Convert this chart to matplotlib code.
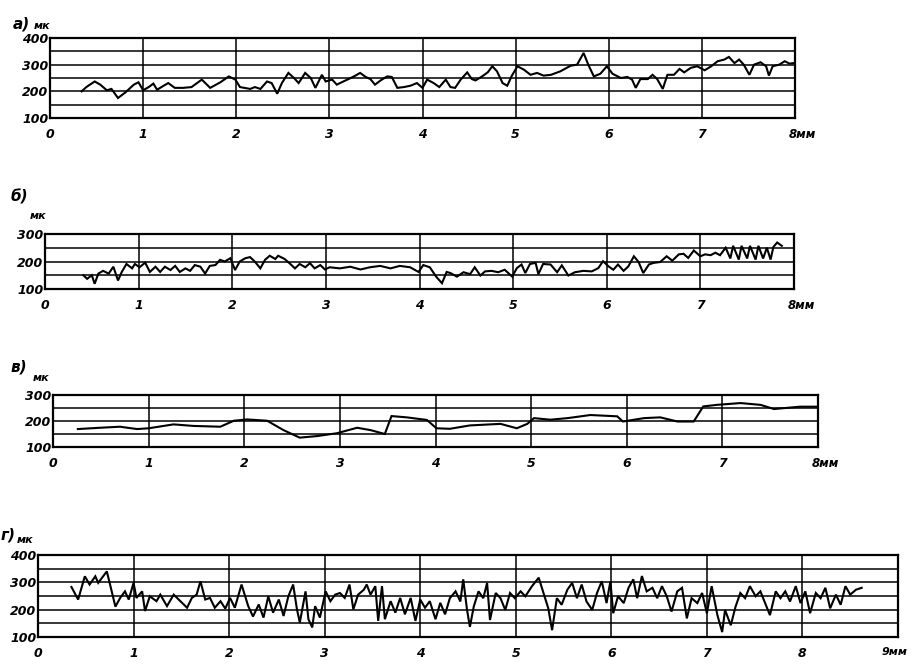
import matplotlib; matplotlib.use("Agg")
import matplotlib.pyplot as plt

W, H = 919, 665

# а) profile, mm / мк
A_X = [0.34, 0.39, 0.48, 0.54, 0.61, 0.66, 0.73, 0.81, 0.90, 0.95, 1.00, 1.06, 1.11, 1.15, 1.22, 1.27,
       1.34, 1.43, 1.52, 1.63, 1.72, 1.83, 1.92, 1.99, 2.04, 2.15, 2.20, 2.26, 2.33, 2.38, 2.44, 2.49,
       2.56, 2.62, 2.67, 2.74, 2.80, 2.85, 2.92, 2.96, 3.03, 3.08, 3.15, 3.23, 3.28, 3.33, 3.39, 3.44,
       3.49, 3.55, 3.62, 3.67, 3.73, 3.80, 3.87, 3.94, 4.00, 4.05, 4.12, 4.18, 4.25,
       4.30, 4.35, 4.41, 4.48, 4.53, 4.57, 4.64, 4.70, 4.75, 4.80, 4.86, 4.91, 4.96, 5.02, 5.09, 5.16,
       5.23, 5.30, 5.38, 5.48, 5.59, 5.66, 5.73, 5.78, 5.84, 5.91, 5.98, 6.04, 6.13, 6.20, 6.25, 6.29,
       6.34, 6.42, 6.47, 6.52, 6.58, 6.63, 6.70, 6.76, 6.81, 6.88, 6.95, 7.03, 7.10, 7.17, 7.24, 7.29,
       7.35, 7.40, 7.45, 7.51, 7.56, 7.63, 7.69, 7.72, 7.76, 7.83, 7.89, 7.94, 7.99]
A_Y = [200, 216, 237, 225, 204, 209, 175, 196, 225, 234, 204, 216, 229, 206, 221, 231,
       213, 213, 216, 244, 213, 234, 256, 244, 216, 209, 216, 209, 237, 231, 191, 231,
       269, 250, 231, 269, 250, 213, 262, 237, 244, 225, 237, 250, 259, 269, 254, 246,
       225, 241, 256, 254, 213, 216, 221, 231, 213, 244, 231, 216, 244,
       216, 213, 244, 271, 246, 241, 256, 271, 294, 275, 231, 221, 259, 294, 281, 262,
       269, 259, 262, 275, 296, 300, 344, 300, 256, 266, 294, 266, 250, 254, 244, 213,
       246, 246, 262, 246, 209, 262, 262, 284, 271, 288, 294, 279, 294, 313, 319, 329,
       306, 319, 300, 262, 300, 309, 294, 259, 294, 300, 313, 304, 306]

# б)
B_X = [0.41, 0.45, 0.50, 0.53, 0.57, 0.62, 0.68, 0.73, 0.78, 0.82, 0.87, 0.93, 0.96, 1.01, 1.07, 1.12,
       1.18, 1.23, 1.28, 1.34, 1.39, 1.44, 1.50, 1.55, 1.60, 1.66, 1.71, 1.76, 1.82, 1.87, 1.92, 1.98,
       2.03, 2.08, 2.14, 2.19, 2.24, 2.30, 2.35, 2.40, 2.46, 2.49, 2.56, 2.62, 2.67, 2.72, 2.78, 2.83,
       2.88, 2.94, 2.99, 3.04, 3.15, 3.26, 3.37, 3.47, 3.58, 3.69, 3.79, 3.90, 3.99, 4.04, 4.11, 4.18,
       4.24, 4.29,
       4.33, 4.40, 4.47, 4.54, 4.59, 4.65, 4.70, 4.77, 4.84, 4.91, 4.99, 5.04, 5.09, 5.13, 5.18, 5.24,
       5.27, 5.32, 5.40, 5.47, 5.52, 5.59, 5.66, 5.75, 5.84, 5.91, 5.96, 6.02, 6.07, 6.12, 6.18, 6.23,
       6.29, 6.34, 6.39, 6.45, 6.50, 6.57, 6.64, 6.70, 6.77, 6.82, 6.87, 6.93, 7.00, 7.05, 7.11, 7.16,
       7.21, 7.27, 7.32, 7.35, 7.41, 7.44, 7.50, 7.53, 7.59, 7.62, 7.67, 7.71, 7.75, 7.78, 7.82, 7.87]
B_Y = [150, 137, 150, 119, 156, 166, 156, 181, 131, 162, 191, 175, 191, 179, 196, 162,
       181, 162, 181, 169, 184, 162, 175, 166, 187, 181, 156, 184, 187, 206, 200, 212,
       169, 200, 212, 216, 200, 175, 206, 221, 209, 221, 209, 191, 175, 191, 179, 194,
       175, 187, 171, 179, 175, 181, 171, 179, 184, 175, 184, 179, 162, 187, 179, 144,
       121, 162,
       158, 145, 161, 154, 179, 149, 164, 166, 161, 170, 145, 176, 189, 158, 191, 195,
       154, 191, 189, 161, 186, 149, 161, 166, 164, 176, 201, 182, 170, 189, 166, 182,
       219, 198, 158, 189, 195, 198, 219, 203, 226, 228, 213, 240, 219, 226, 223, 232,
       223, 250, 211, 257, 207, 257, 211, 257, 207, 257, 211, 250, 207, 253, 269, 257]

# в)
V_X = [0.26, 0.49, 0.70, 0.88, 1.00, 1.26, 1.47, 1.75, 1.89, 2.03, 2.24, 2.41, 2.58, 2.76, 2.97, 3.18,
       3.32, 3.47, 3.54, 3.70, 3.91, 4.01,
       4.15, 4.36, 4.68, 4.85, 4.96, 5.03, 5.20, 5.38, 5.62, 5.90, 5.96, 6.18, 6.35, 6.53, 6.70, 6.80,
       6.94, 7.19, 7.40, 7.54, 7.81, 7.98]
V_Y = [169, 174, 178, 169, 172, 187, 181, 178, 201, 206, 201, 165, 136, 142, 153, 174,
       165, 150, 219, 214, 204, 172,
       170, 183, 189, 172, 189, 211, 205, 211, 223, 218, 198, 211, 214, 198, 198, 256,
       262, 269, 262, 246, 255, 255]

# г)
G_X = [0.35, 0.42, 0.49, 0.54, 0.60, 0.63, 0.72, 0.75, 0.81, 0.86, 0.91, 0.95, 1.00, 1.03, 1.09, 1.12,
       1.17, 1.24, 1.28, 1.35, 1.42, 1.49, 1.56, 1.61, 1.66, 1.70, 1.75, 1.80, 1.85, 1.91, 1.96, 2.01,
       2.06, 2.13, 2.20, 2.25, 2.31, 2.36, 2.41, 2.46, 2.52, 2.57, 2.62, 2.67, 2.71, 2.74, 2.80, 2.83,
       2.87, 2.90, 2.95, 3.01, 3.06, 3.11, 3.16, 3.21, 3.26, 3.30, 3.35, 3.41, 3.44, 3.48, 3.53, 3.56,
       3.60, 3.63, 3.69, 3.74, 3.79, 3.84, 3.90, 3.95, 4.00, 4.05, 4.10, 4.16, 4.21, 4.26,
       4.31, 4.37, 4.42, 4.45, 4.49, 4.52, 4.56, 4.61, 4.66, 4.70, 4.73, 4.79, 4.84, 4.89, 4.94, 4.99,
       5.05, 5.10, 5.17, 5.24, 5.29, 5.34, 5.38, 5.43, 5.48, 5.54, 5.59, 5.64, 5.69, 5.74, 5.80, 5.85,
       5.90, 5.95, 5.99, 6.02, 6.07, 6.13, 6.18, 6.23, 6.27, 6.32, 6.37, 6.43, 6.48, 6.53, 6.58, 6.63,
       6.69, 6.74, 6.79, 6.84, 6.90, 6.95, 7.00, 7.05, 7.11, 7.16, 7.19, 7.25, 7.30, 7.35, 7.40, 7.45,
       7.51, 7.56, 7.61, 7.66, 7.72, 7.77, 7.82, 7.87, 7.93, 7.98, 8.03, 8.08, 8.14, 8.19, 8.24, 8.29,
       8.35, 8.40, 8.45, 8.50, 8.56, 8.62]
G_Y = [283, 237, 322, 292, 322, 298, 340, 298, 211, 243, 267, 237, 298, 243, 267, 195,
       249, 231, 255, 213, 255, 231, 207, 243, 255, 304, 237, 243, 207, 231, 204, 243,
       207, 292, 213, 175, 219, 171, 249, 189, 237, 177, 249, 292, 201, 153, 267, 165,
       135, 213, 171, 267, 231, 255, 261, 243, 292, 201, 255, 273, 292, 255, 286, 159,
       286, 165, 231, 189, 243, 183, 243, 159, 237, 207, 231, 165, 225, 183,
       242, 267, 230, 311, 199, 137, 211, 267, 242, 298, 162, 261, 242, 199, 261, 242,
       267, 249, 286, 317, 261, 205, 125, 242, 218, 273, 298, 242, 292, 230, 199, 261,
       304, 224, 304, 187, 249, 224, 280, 311, 242, 323, 267, 280, 242, 286, 249, 193,
       267, 280, 168, 242, 224, 261, 187, 286, 180, 118, 199, 143, 211, 261, 242, 286,
       249, 267, 224, 180, 267, 242, 267, 230, 286, 224, 267, 187, 261, 242, 280, 205,
       255, 218, 286, 255, 273, 280]

FONT = dict(family="DejaVu Sans", style="italic", weight="bold")


def px_box(x0, y0, x1, y1):
    return [x0 / W, 1 - y1 / H, (x1 - x0) / W, (y1 - y0) / H]


def draw_panel(fig, box, xs, ys, xmax, ymax, letter, letter_xy, unit_xy, end_shift=-6, end_size=8.5):
    ax = fig.add_axes(px_box(*box))
    ax.plot(xs, ys, color="black", lw=1.5, solid_joinstyle="miter")
    ax.set_xlim(0, xmax)
    ax.set_ylim(100, ymax)

    # last tick gets its unit, left-aligned just before the tick like in the scan
    ax.set_xticks(range(xmax + 1))
    ax.set_xticklabels([str(i) for i in range(xmax)] + [""], fontsize=9, **FONT)
    ax.annotate(f"{xmax}мм", xy=(xmax, 0), xycoords=("data", "axes fraction"),
                xytext=(end_shift * 0.72, -7), textcoords="offset points",
                ha="left", va="top", fontsize=end_size, annotation_clip=False, **FONT)

    major = list(range(100, ymax + 1, 100))
    ax.set_yticks(major)
    ax.set_yticklabels([str(v) for v in major], fontsize=9, **FONT)
    ax.set_yticks(list(range(150, ymax, 100)), minor=True)

    ax.tick_params(axis="both", which="both", length=0)
    ax.tick_params(axis="x", pad=7)
    ax.tick_params(axis="y", pad=1)
    ax.grid(True, which="both", color="black", lw=1.1)
    ax.set_axisbelow(True)
    for s in ax.spines.values():
        s.set_linewidth(1.6)

    fig.text(letter_xy[0] / W, 1 - letter_xy[1] / H, letter, fontsize=11, va="center", **FONT)
    fig.text(unit_xy[0] / W, 1 - unit_xy[1] / H, "мк", fontsize=8, va="center", **FONT)
    return ax


fig = plt.figure(figsize=(W / 100, H / 100), dpi=100)
fig.patch.set_facecolor("white")

draw_panel(fig, (50, 38, 795, 118), A_X, A_Y, 8, 400, "а)", (13, 24), (34, 26))
draw_panel(fig, (45, 234, 794, 289), B_X, B_Y, 8, 300, "б)", (11, 197), (30, 216))
draw_panel(fig, (53, 395, 818, 447), V_X, V_Y, 8, 300, "в)", (11, 367), (33, 378))
draw_panel(fig, (38, 555, 898, 637), G_X, G_Y, 9, 400, "г)", (1, 535), (17, 540),
           end_shift=-16, end_size=8)

plt.savefig("out.png", dpi=100)
